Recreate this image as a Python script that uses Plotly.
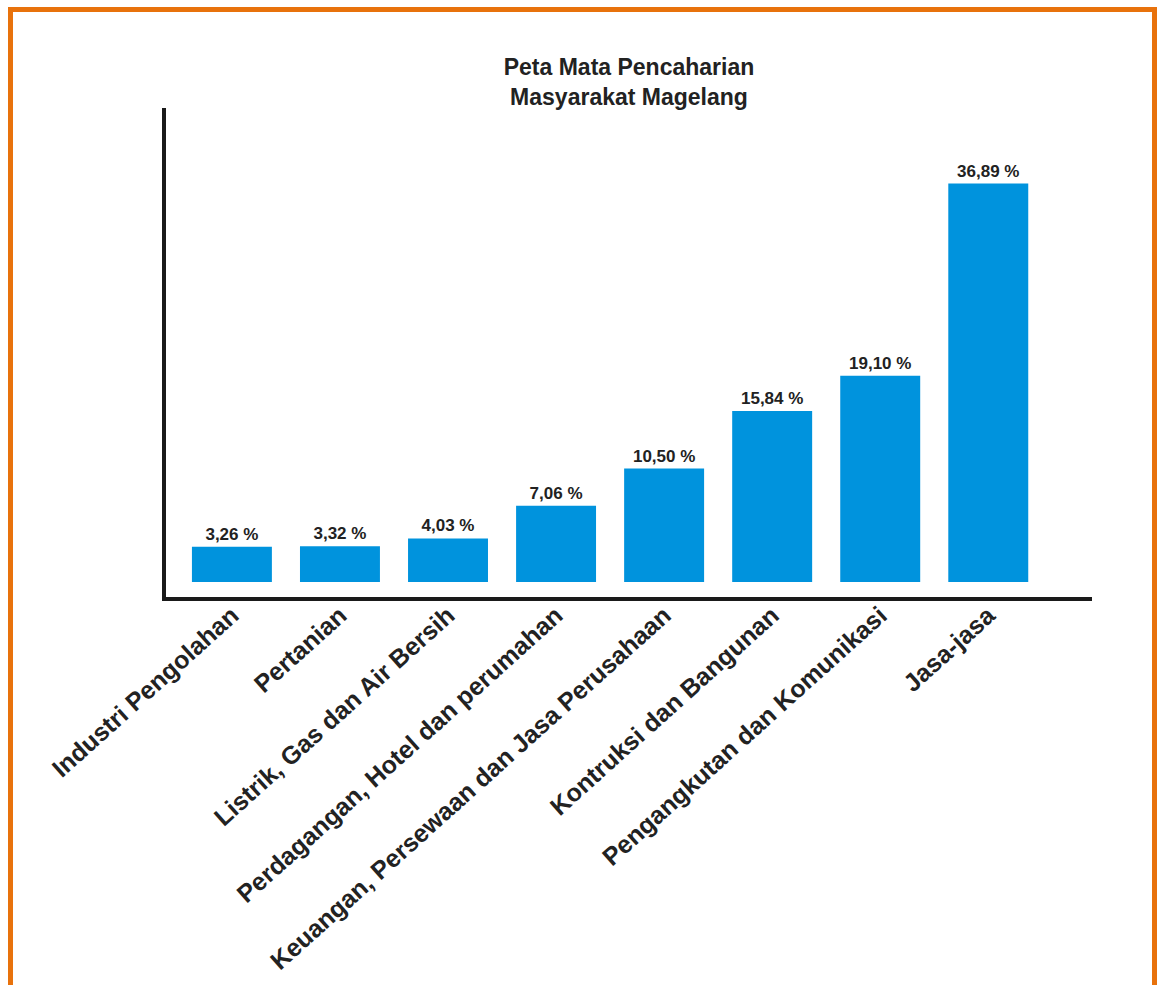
import plotly.graph_objects as go

categories = [
    "Industri Pengolahan",
    "Pertanian",
    "Listrik, Gas dan Air Bersih",
    "Perdagangan, Hotel dan perumahan",
    "Keuangan, Persewaan dan Jasa Perusahaan",
    "Kontruksi dan Bangunan",
    "Pengangkutan dan Komunikasi",
    "Jasa-jasa",
]
values = [3.26, 3.32, 4.03, 7.06, 10.50, 15.84, 19.10, 36.89]
value_labels = [f"{v:.2f}".replace(".", ",") + " %" for v in values]

FONT = "Liberation Sans, Arial, sans-serif"
W, H = 1163, 985
L, R, T, B = 166, 71, 108, 388
pw, ph = W - L - R, H - T - B
scale = 10.8  # px per percent
y0 = -15 / scale
y1 = (ph - 15) / scale

fig = go.Figure(go.Bar(
    x=list(range(len(categories))),
    y=values,
    text=value_labels,
    textposition="outside",
    textfont=dict(family=FONT, size=17, color="#222222", weight="bold"),
    marker=dict(color="#0093DD", line=dict(width=0)),
    width=0.74,
    cliponaxis=False,
))

def px_to_paper_x(px):
    return (px - L) / pw

def px_to_paper_y(py):
    return (H - B - py) / ph

fig.update_layout(
    width=W, height=H,
    margin=dict(l=L, r=R, t=T, b=B, autoexpand=False),
    plot_bgcolor="white", paper_bgcolor="white",
    showlegend=False,
    title=dict(
        text="Peta Mata Pencaharian<br>Masyarakat Magelang",
        x=0.5, xref="paper", xanchor="center",
        y=1 - 75 / H, yref="container", yanchor="middle",
        font=dict(family=FONT, size=23, color="#222222", weight="bold"),
    ),
    xaxis=dict(
        tickmode="array",
        tickvals=list(range(len(categories))),
        ticktext=categories,
        tickangle=-42,
        range=[-0.61, 7.96],
        automargin=False,
        ticklabelstandoff=-10,
        showline=True, linewidth=4, linecolor="#1a1a1a",
        showgrid=False, zeroline=False, ticks="",
        tickfont=dict(family=FONT, size=25, color="#222222", weight="bold"),
    ),
    yaxis=dict(
        range=[y0, y1],
        automargin=False,
        showline=True, linewidth=4, linecolor="#1a1a1a",
        showgrid=False, zeroline=False, showticklabels=False, ticks="",
    ),
    shapes=[dict(
        type="rect", xref="paper", yref="paper",
        x0=px_to_paper_x(10.5), x1=px_to_paper_x(1154.5),
        y0=px_to_paper_y(1000), y1=px_to_paper_y(9.5),
        line=dict(color="#E8720C", width=5),
        fillcolor="rgba(0,0,0,0)", layer="above",
    )],
)

fig.write_html("out.html")
